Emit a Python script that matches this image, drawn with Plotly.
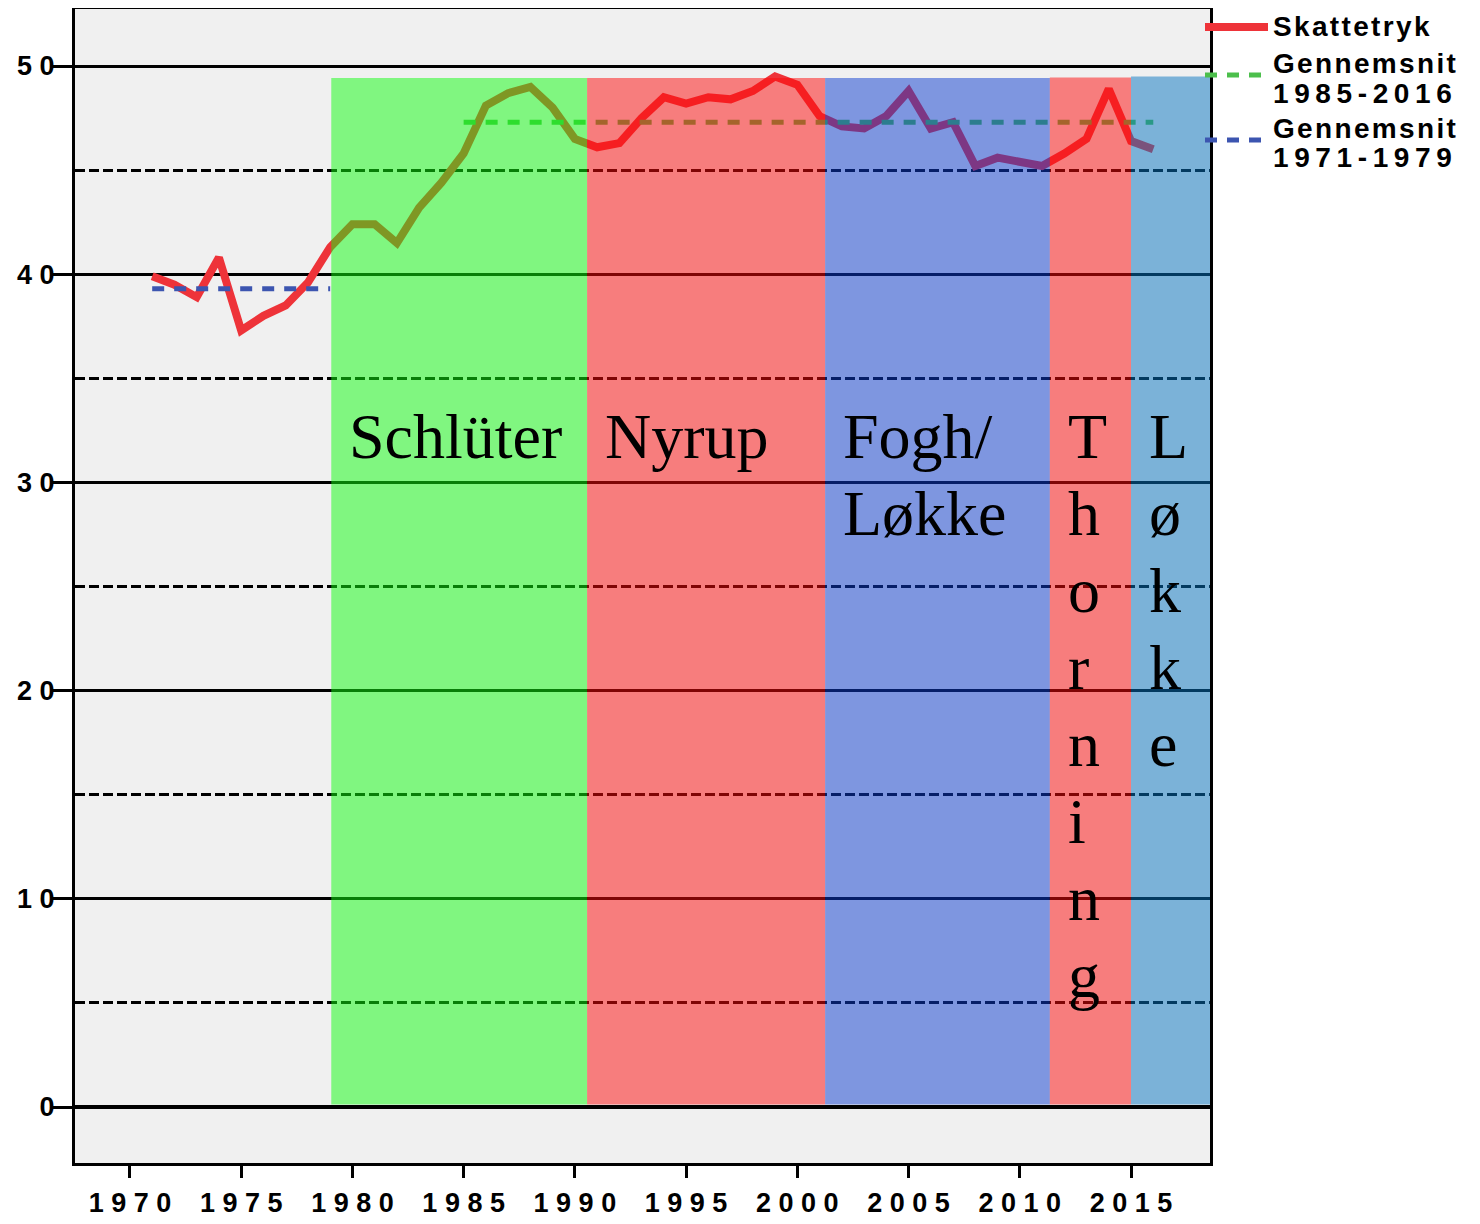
import plotly.graph_objects as go

years = list(range(1971, 2017))
skattetryk = [39.9, 39.5, 38.9, 40.8, 37.3, 38.0, 38.5, 39.6, 41.3,
              42.4, 42.4, 41.5, 43.2, 44.4,
              45.8, 48.1, 48.7, 49.0, 48.0,
              46.5, 46.1, 46.3, 47.5, 48.5,
              48.2, 48.5, 48.4, 48.8, 49.5,
              49.1, 47.6, 47.1, 47.0, 47.6,
              48.8, 47.0, 47.3, 45.2, 45.6,
              45.4, 45.2, 45.8, 46.5, 48.9,
              46.4, 46.0]

avg_names = ["Gennemsnit 1985-2016", "Gennemsnit 1971-1979"]
avg_years = [[1985, 2016], [1971, 1979]]
avg_values = [47.3, 39.3]
avg_colors = ["#4cbf4c", "#3c55b0"]
line_color = "#ee3339"

pm_labels = [["Schlüter"], ["Nyrup"], ["Fogh/", "Løkke"],
             list("Thorning"), list("Løkke")]
pm_start = [1979.05, 1990.55, 2001.25, 2011.35, 2015.0]
pm_end = [1990.55, 2001.25, 2011.35, 2015.0, 2018.7]
pm_colors = ["rgba(16,252,16,0.5)", "rgba(254,10,10,0.5)", "rgba(12,60,208,0.5)",
             "rgba(254,10,10,0.5)", "rgba(6,116,192,0.5)"]
pm_top = [49.42, 49.42, 49.42, 49.45, 49.5]

x_ticks = [1970, 1975, 1980, 1985, 1990, 1995, 2000, 2005, 2010, 2015]
y_ticks = [0, 10, 20, 30, 40, 50]

HS = "\u200a"   # hair space for letter spacing
TS = "\u2009"   # thin space for digit spacing

fig = go.Figure()
fig.add_trace(go.Scatter(x=years, y=skattetryk, mode="lines", name="Skattetryk",
                         line=dict(color=line_color, width=8)))
for name, xs, v, c in zip(avg_names, avg_years, avg_values, avg_colors):
    fig.add_trace(go.Scatter(x=xs, y=[v, v], mode="lines", name=name,
                             line=dict(color=c, width=5, dash="12px,10px")))

line_step = 3.70  # label line spacing in y units
for x0, x1, c, top, lines in zip(pm_start, pm_end, pm_colors, pm_top, pm_labels):
    fig.add_shape(type="rect", x0=x0, x1=x1, y0=0.12, y1=top, xref="x", yref="y",
                  fillcolor=c, line=dict(width=0), layer="above")
    for k, t in enumerate(lines):
        fig.add_annotation(x=x0 + 0.72, y=32.2 - k * line_step, xref="x", yref="y", text=t,
                           showarrow=False, xanchor="left", yanchor="middle", align="left",
                           font=dict(family="Liberation Serif", size=64, color="black"))

# legend drawn in the right margin (paper coordinates)
PW, PH = 1135.0, 1154.0
def px(x):
    return (x - 75) / PW
def py(y):
    return (1163 - y) / PH

leg_font = dict(family="Liberation Sans", size=28, color="black", weight="bold")
leg_items = [
    (line_color, "solid", 8, 27, [(HS.join("Skattetryk"), 27)]),
    (avg_colors[0], "12px,10px", 5, 75, [(HS.join("Gennemsnit"), 63), (TS.join("1985-2016"), 93)]),
    (avg_colors[1], "12px,10px", 5, 140, [(HS.join("Gennemsnit"), 128), (TS.join("1971-1979"), 157)]),
]
for col, dash, w, ly, texts in leg_items:
    fig.add_shape(type="line", xref="paper", yref="paper", x0=px(1205), x1=px(1268),
                  y0=py(ly), y1=py(ly), line=dict(color=col, width=w, dash=dash), layer="above")
    for t, ty in texts:
        fig.add_annotation(xref="paper", yref="paper", x=px(1271), y=py(ty), text=t,
                           showarrow=False, xanchor="left", yanchor="middle", font=leg_font)

tickfont = dict(family="Liberation Sans", size=27, color="black", weight="bold")
fig.update_layout(
    width=1464, height=1216,
    margin=dict(l=67, r=262, t=1, b=61, autoexpand=False),
    paper_bgcolor="white", plot_bgcolor="#f0f0f0",
    showlegend=False,
    xaxis=dict(range=[1967.53, 2018.55], tickvals=x_ticks,
               ticktext=[" ".join(str(t)) for t in x_ticks],
               ticks="outside", ticklen=12, tickwidth=3, tickcolor="black",
               showgrid=False, zeroline=False, ticklabelstandoff=2, automargin=False,
               showline=True, mirror=True, linecolor="black", linewidth=3,
               tickfont=tickfont),
    yaxis=dict(range=[-2.69, 52.74], tickvals=y_ticks,
               ticktext=[" ".join(str(t)) for t in y_ticks],
               ticks="outside", ticklen=20, tickwidth=3, tickcolor="black",
               ticklabelstandoff=-8, automargin=False,
               showgrid=True, gridcolor="black", gridwidth=2.5,
               zeroline=True, zerolinecolor="black", zerolinewidth=4,
               minor=dict(tickvals=[5, 15, 25, 35, 45], showgrid=True, gridcolor="black",
                          gridwidth=3, griddash="10px,4px", ticks=""),
               showline=True, mirror=True, linecolor="black", linewidth=3,
               tickfont=tickfont),
)

fig.write_html("out.html")
